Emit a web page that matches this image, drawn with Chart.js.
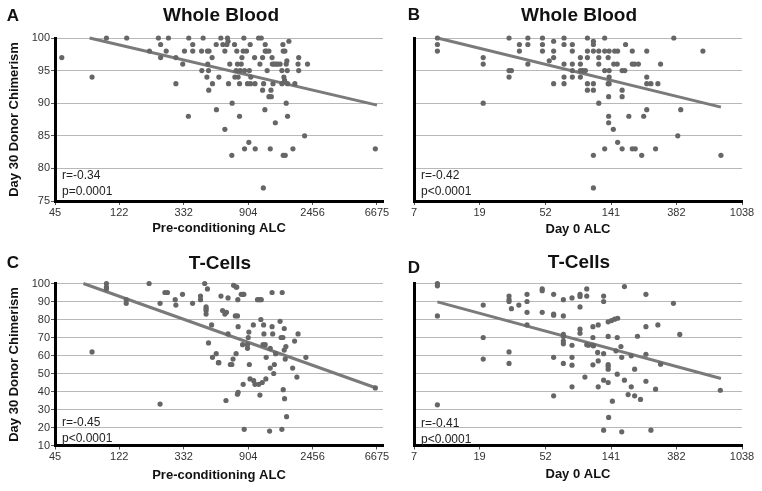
<!DOCTYPE html>
<html>
<head>
<meta charset="utf-8">
<script src="https://cdn.jsdelivr.net/npm/chart.js@4"></script>
<style>
body{margin:0;background:#fff;font-family:"Liberation Sans",Arial,sans-serif;}
#wrap{position:relative;width:762px;height:491px;overflow:hidden;}
canvas{position:absolute;}
.lbl{position:absolute;white-space:nowrap;color:#111;transform:translate(-50%,-50%);}
.letter{font-weight:bold;font-size:17px;}
.title{font-weight:bold;font-size:19px;}
.stat{position:absolute;white-space:nowrap;font-size:12px;line-height:16px;color:#222;}
</style>
</head>
<body>
<div id="wrap">
  <canvas id="chartA" width="395" height="245" style="left:0;top:0"></canvas>
  <canvas id="chartB" width="367" height="245" style="left:395px;top:0"></canvas>
  <canvas id="chartC" width="395" height="246" style="left:0;top:245px"></canvas>
  <canvas id="chartD" width="367" height="246" style="left:395px;top:245px"></canvas>

  <div class="lbl letter" style="left:13px;top:16px">A</div>
  <div class="lbl letter" style="left:414px;top:15px">B</div>
  <div class="lbl letter" style="left:13px;top:263px">C</div>
  <div class="lbl letter" style="left:414px;top:268px">D</div>

  <div class="lbl title" style="left:221px;top:15px">Whole Blood</div>
  <div class="lbl title" style="left:579px;top:15px">Whole Blood</div>
  <div class="lbl title" style="left:220px;top:263px">T-Cells</div>
  <div class="lbl title" style="left:579px;top:262px">T-Cells</div>

  <div class="stat" style="left:62px;top:167px">r=-0.34<br>p=0.0001</div>
  <div class="stat" style="left:421px;top:167px">r=-0.42<br>p&lt;0.0001</div>
  <div class="stat" style="left:62px;top:414px">r=-0.45<br>p&lt;0.0001</div>
  <div class="stat" style="left:421px;top:415px">r=-0.41<br>p&lt;0.0001</div>
</div>
<script>
// tick labels
const preTicks = [45, 122, 332, 904, 2456, 6675];
const day0Ticks = [7, 19, 52, 141, 382, 1038];
const wbYTicks = [75, 80, 85, 90, 95, 100];
const tcYTicks = [10, 20, 30, 40, 50, 60, 70, 80, 90, 100];

// A: whole blood vs pre-conditioning ALC
const wbPreAlc = [50,80,100,137,195,224,232,232,253,262,
  294,294,327,336,359,357,382,382,438,449,
  440,476,480,482,488,490,492,516,519,550,
  552,573,591,610,629,629,649,655,661,666,
  679,701,704,731,735,749,757,765,773,790,
  790,798,811,820,836,845,854,854,880,894,
  913,920,932,937,941,1008,998,1004,1062,1084,
  1107,1130,1130,1143,1148,1171,1177,1177,1201,1213,
  1247,1247,1273,1287,1294,1309,1315,1329,1350,1377,
  1390,1432,1483,1525,1525,1549,1557,1557,1573,1590,
  1598,1606,1631,1631,1648,1657,1665,1665,1700,1810,
  1866,1960,1980,1980,2170,2270,6508];
const wbPreChim = [97,94,100,100,98,100,99,97,98,100,
  97,93,96,98,100,88,99,98,98,100,
  95,94,98,96,95,92,98,97,93,99,
  89,94,100,99,86,98,99,100,99.5,93,
  96,82,90,99,94,95,98,96,94,93,
  88,95,96,97,98,100,83,95,98,93,
  84,95,99,93,94,83,97,93,100,96,
  100,92,97,77,93,89,99,98,98,95,
  91,98,83,92,91,97,96,93,96,87,
  96,96,96,95,93,99,98,82,94,93.5,
  98,82,96,90,96.5,95,88,93,99.5,83,
  93,96,95,97,85,96,83];

// B: whole blood vs day 0 ALC
const wbDay0Alc = [10,10,10,20.1,20.1,20.1,29.8,29.8,29.8,30.9,
  34.9,34.9,39.7,39.7,39.7,49.6,49.6,49.6,55,58.8,
  58.8,58.8,58.8,68.9,68.9,68.9,68.9,68.9,78.2,78.2,
  78.2,78.2,78.2,88.4,88.4,88.4,88.4,91.4,95.4,98.4,
  98.4,98.4,98.4,98.4,107.8,107.8,107.8,107.8,107.8,107.8,
  107.8,117,117,117,117,128,128,128,128,135,
  135,137,137,137,136,136,136,137,146,147,
  149,155,156,156,167,167,167,167,174,176,
  185,195,195,195,202,204,214,225,232,243,
  243,243,243,259,278,288,300,367,390,408,
  572,753];
const wbDay0Chim = [100,99,98,97,96,90,100,94,95,95,
  99,98,100,99,96,100,99,98,96.5,99.5,
  98,97,93,100,99,96,94,93,99,98,
  96,95,94,97,96,95,94,95,95,100,
  98,97,93,92,99.5,99,98,93,92,82,
  77,98,97,96,90,100,98,95,83,97,
  93,98,94,93,91,88,87,95,86,96,
  98,96,98,84,92,91,95,83,95,99,
  88,98,96,83,96,83,96,82,88,98,
  94,93,89,93,83,93,96,100,85,89,
  98,82];

// C: T-cells vs pre-conditioning ALC
const tcPreAlc = [80,100,100,100,136,136,194,230,230,248,
  258,291,294,326,381,431,431,460,470,470,
  470,470,480,488,512,519,550,569,573,592,
  607,629,640,645,661,661,685,701,714,720,
  749,740,749,757,765,769,773,765,773,811,
  828,836,836,849,845,894,894,904,913,920,
  930,979,984,1004,1044,1074,1107,1064,1084,1100,
  1124,1137,1148,1154,1177,1189,1195,1260,1273,1273,
  1309,1309,1322,1343,1357,1384,1483,1507,1525,1532,
  1549,1557,1582,1582,1590,1606,1623,1640,1802,1857,
  1925,1960,2214,6508];
const tcPreChim = [62,100,98,97,91,89,100,89,33,95,
  95,91,88,94,89,93,91,100,87,85,
  83,86,97,67,77,59,61,56,56,93,
  85,83,35,84,92,72,55,55,58,99,
  98,82,61,98,82,91,76,38.5,39.5,94,
  66,94,44,19,94,66,64,70,73,55,
  47,77,46,44,91,91,91,44,38,80,
  45,66,77,72,66,47,59,18,64,53,
  95,76,72,50,55,61,79,70,19,95,
  70,41,75,63,36,58,65,26,53,68,
  48,72,59,42];

// D: T-cells vs day 0 ALC
const tcDay0Alc = [10,10,10,10,20.1,20.1,20.1,29.8,29.8,29.8,
  29.8,29.8,30.9,34.6,39.2,39.2,39.2,39.2,49.4,49.4,
  49.4,58.8,58.8,58.8,58.8,58.8,68.2,68.2,68.2,68.2,
  68.2,68.2,68.2,77.8,77.8,77.8,77.8,77.8,87.9,87.9,
  87.9,87.9,87.9,94.7,97.4,97.4,97.4,100,107,107,
  107,107,108,115,116,116,116,126,126,126,
  126,126,135,135,135,135,135,135,136,142,
  144,149,152,155,155,156,164,166,166,173,
  173,192,192,183,202,202,211,221,240,240,
  240,240,259,278,288,300,365,402,746];
const tcDay0Chim = [100,98.7,82,32.6,88,70,58,93,91,90,
  62,55.6,86,88,94,90,84,77,97,96,
  84,94,83,82.4,59,37.6,91,82,71.7,70.6,
  68,66.5,55.6,92,65.7,59,54.6,42.6,94,92.8,
  87,74.6,72.4,48,97,93,66,65.7,76,70,
  65.7,54.8,65.4,61.7,77,57,42.6,93,90,61,
  46.3,18.5,78.7,70.6,55,54,52.4,45,25.6,79.4,
  34.6,80.2,62.6,70,49.6,80.7,65,59,17.6,46.3,
  98.3,59.8,42.6,38.3,37.6,52.4,70.7,35.6,94,76,
  60.7,45.7,18.5,41.3,77,55.2,89,71.7,40.7];

// fitted lines (end points)
const wbPreTrendX = [77, 6675], wbPreTrendY = [100, 89.7];
const wbDay0TrendX = [10, 753], wbDay0TrendY = [100, 89.4];
const tcPreTrendX = [70, 6675], tcPreTrendY = [100, 41.8];
const tcDay0TrendX = [10, 753], tcDay0TrendY = [89.8, 47.2];

Chart.defaults.font.family = '"Liberation Sans", Arial, sans-serif';

const toPoints = (xs, ys) => xs.map((x, i) => ({x: x, y: ys[i]}));

const makePanel = (id, xs, ys, tx, ty, o) => {
  new Chart(document.getElementById(id), {
    type: 'scatter',
    data: {
      datasets: [
        {data: toPoints(xs, ys), backgroundColor: '#666', borderWidth: 0, pointRadius: 2.6, clip: false},
        {data: toPoints(tx, ty), showLine: true, borderColor: '#7a7a7a', borderWidth: 3, pointRadius: 0, clip: false}
      ]
    },
    options: {
      responsive: false,
      animation: false,
      layout: {padding: {top: o.padTop, right: o.padRight, left: 0, bottom: 0}},
      plugins: {legend: {display: false}, tooltip: {enabled: false}},
      scales: {
        x: {
          type: 'logarithmic', min: o.xMin, max: o.xMax, bounds: 'data',
          afterBuildTicks: s => { s.ticks = o.xTicks.map(v => ({value: v})); },
          afterFit: s => { s.height = o.xHeight; },
          ticks: {autoSkip: false, maxRotation: 0, padding: 1, color: '#333', font: {size: 11}, callback: v => String(v)},
          grid: {drawOnChartArea: false, tickLength: 4, tickColor: '#555'},
          border: {color: '#000', width: 3},
          title: {display: true, text: o.xTitle, color: '#111', font: {size: 13, weight: 'bold'}, padding: {top: 0, bottom: o.xTitlePad}}
        },
        y: {
          min: o.yMin, max: o.yMax,
          afterBuildTicks: s => { s.ticks = o.yTicks.map(v => ({value: v})); },
          afterFit: s => { s.width = o.yWidth; },
          ticks: {display: o.yLabels, padding: 1, color: '#333', font: {size: 11}},
          grid: {color: '#b8b8b8', tickLength: 4, drawTicks: o.yLabels, tickColor: '#555'},
          border: {color: '#000', width: 3},
          title: {display: o.yLabels, text: 'Day 30 Donor Chimerism', color: '#111', font: {size: 13, weight: 'bold'}, padding: {top: 7, bottom: 0}}
        }
      }
    }
  });
};

makePanel('chartA', wbPreAlc, wbPreChim, wbPreTrendX, wbPreTrendY, {
  padTop: 38, padRight: 12, xHeight: 44, yWidth: 55, yLabels: true,
  xMin: 45, xMax: 7330, xTicks: preTicks, xTitle: 'Pre-conditioning ALC', xTitlePad: 8.5,
  yMin: 75, yMax: 100, yTicks: wbYTicks
});
makePanel('chartB', wbDay0Alc, wbDay0Chim, wbDay0TrendX, wbDay0TrendY, {
  padTop: 38, padRight: 20, xHeight: 44, yWidth: 19, yLabels: false,
  xMin: 7, xMax: 1038, xTicks: day0Ticks, xTitle: 'Day 0 ALC', xTitlePad: 8,
  yMin: 75, yMax: 100, yTicks: wbYTicks
});
makePanel('chartC', tcPreAlc, tcPreChim, tcPreTrendX, tcPreTrendY, {
  padTop: 38.5, padRight: 12, xHeight: 45.5, yWidth: 55, yLabels: true,
  xMin: 45, xMax: 7330, xTicks: preTicks, xTitle: 'Pre-conditioning ALC', xTitlePad: 7.5,
  yMin: 10, yMax: 100, yTicks: tcYTicks
});
makePanel('chartD', tcDay0Alc, tcDay0Chim, tcDay0TrendX, tcDay0TrendY, {
  padTop: 38.5, padRight: 20, xHeight: 45.5, yWidth: 19, yLabels: false,
  xMin: 7, xMax: 1038, xTicks: day0Ticks, xTitle: 'Day 0 ALC', xTitlePad: 8.5,
  yMin: 10, yMax: 100, yTicks: tcYTicks
});
</script>
</body>
</html>
